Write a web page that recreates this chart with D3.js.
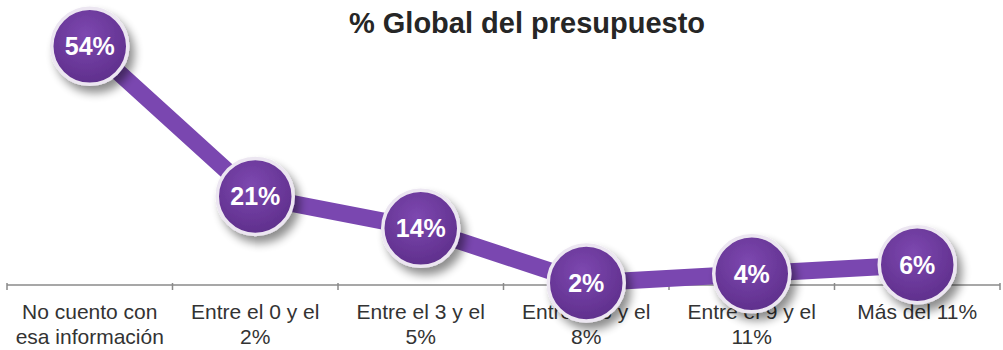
<!DOCTYPE html>
<html>
<head>
<meta charset="utf-8">
<script src="https://cdn.jsdelivr.net/npm/d3@7"></script>
<style>
  html, body { margin: 0; padding: 0; background: #ffffff; }
  svg { display: block; }
</style>
</head>
<body>
<svg id="chart" width="1003" height="350"></svg>
<script>
// Budget share by response category
const title = "% Global del presupuesto";
const categories = [
  "No cuento con esa información",
  "Entre el 0 y el 2%",
  "Entre el 3 y el 5%",
  "Entre el 6 y el 8%",
  "Entre el 9 y el 11%",
  "Más del 11%"
];
const values = [54, 21, 14, 2, 4, 6];
const valueLabels = ["54%", "21%", "14%", "2%", "4%", "6%"];

const W = 1003, H = 350;
const svg = d3.select("#chart");

const defs = svg.append("defs");
const grad = defs.append("radialGradient")
  .attr("id", "bubbleFill").attr("cx", "45%").attr("cy", "35%").attr("r", "65%");
grad.append("stop").attr("offset", "0%").attr("stop-color", "#7d48b0");
grad.append("stop").attr("offset", "100%").attr("stop-color", "#5f2f8c");

const shadow = defs.append("filter").attr("id", "shadow")
  .attr("x", "-40%").attr("y", "-40%").attr("width", "190%").attr("height", "190%");
shadow.append("feGaussianBlur").attr("in", "SourceAlpha").attr("stdDeviation", 5).attr("result", "b");
shadow.append("feOffset").attr("in", "b").attr("dx", 5).attr("dy", 7).attr("result", "o");
shadow.append("feComponentTransfer").attr("in", "o").attr("result", "s")
  .append("feFuncA").attr("type", "linear").attr("slope", 0.45);
const merge = shadow.append("feMerge");
merge.append("feMergeNode").attr("in", "s");
merge.append("feMergeNode").attr("in", "SourceGraphic");

const x = d3.scaleBand().domain(categories).range([7, 1000]).padding(0);
const y = d3.scaleLinear().domain([0, 60]).range([292, 19]);
const axisY = 285;

// Title
svg.append("text")
  .attr("x", 527).attr("y", 33)
  .attr("text-anchor", "middle")
  .attr("font-family", "Liberation Sans, Arial, sans-serif")
  .attr("font-weight", "bold").attr("font-size", 29)
  .attr("fill", "#262626")
  .text(title);

// Category axis: baseline with ticks at band boundaries
const axisG = svg.append("g");
axisG.append("line")
  .attr("x1", x.range()[0]).attr("x2", x.range()[1])
  .attr("y1", axisY).attr("y2", axisY)
  .attr("stroke", "#8a8a8a").attr("stroke-width", 1.5);
const bounds = categories.map(c => x(c)).concat([x.range()[1]]);
axisG.selectAll(".tick").data(bounds).join("line")
  .attr("class", "tick")
  .attr("x1", d => d).attr("x2", d => d)
  .attr("y1", axisY - 2).attr("y2", axisY + 5)
  .attr("stroke", "#8a8a8a").attr("stroke-width", 1.5);

// Wrapped category labels
const labelG = svg.append("g")
  .attr("font-family", "Liberation Sans, Arial, sans-serif")
  .attr("font-size", 21).attr("fill", "#333333");
categories.forEach(c => {
  const t = labelG.append("text")
    .attr("x", x(c) + x.bandwidth() / 2).attr("y", 319)
    .attr("text-anchor", "middle");
  const words = c.split(" ");
  let line = [], lines = [];
  const probe = t.append("tspan");
  words.forEach(w => {
    line.push(w);
    probe.text(line.join(" "));
    if (probe.node().getComputedTextLength() > x.bandwidth() - 12 && line.length > 1) {
      line.pop();
      lines.push(line.join(" "));
      line = [w];
    }
  });
  lines.push(line.join(" "));
  probe.remove();
  lines.forEach((l, i) => {
    t.append("tspan")
      .attr("x", x(c) + x.bandwidth() / 2)
      .attr("dy", i === 0 ? 0 : 25)
      .text(l);
  });
});

const pts = categories.map((c, i) => [x(c) + x.bandwidth() / 2, y(values[i])]);

// Connecting line
svg.append("path")
  .attr("d", d3.line()(pts))
  .attr("fill", "none")
  .attr("stroke", "#7a47b0")
  .attr("stroke-width", 17)
  .attr("stroke-linejoin", "round");

// Value bubbles
const bubbles = svg.selectAll(".bubble").data(pts).join("g")
  .attr("class", "bubble")
  .attr("transform", d => `translate(${d[0]},${d[1]})`);
bubbles.append("circle")
  .attr("r", 38)
  .attr("fill", "url(#bubbleFill)")
  .attr("stroke", "#ece6f1").attr("stroke-width", 3.5)
  .attr("filter", "url(#shadow)");
bubbles.append("text")
  .attr("text-anchor", "middle").attr("dy", "0.36em")
  .attr("font-family", "Liberation Sans, Arial, sans-serif")
  .attr("font-weight", "bold").attr("font-size", 25)
  .attr("fill", "#ffffff")
  .text((d, i) => valueLabels[i]);
</script>
</body>
</html>
